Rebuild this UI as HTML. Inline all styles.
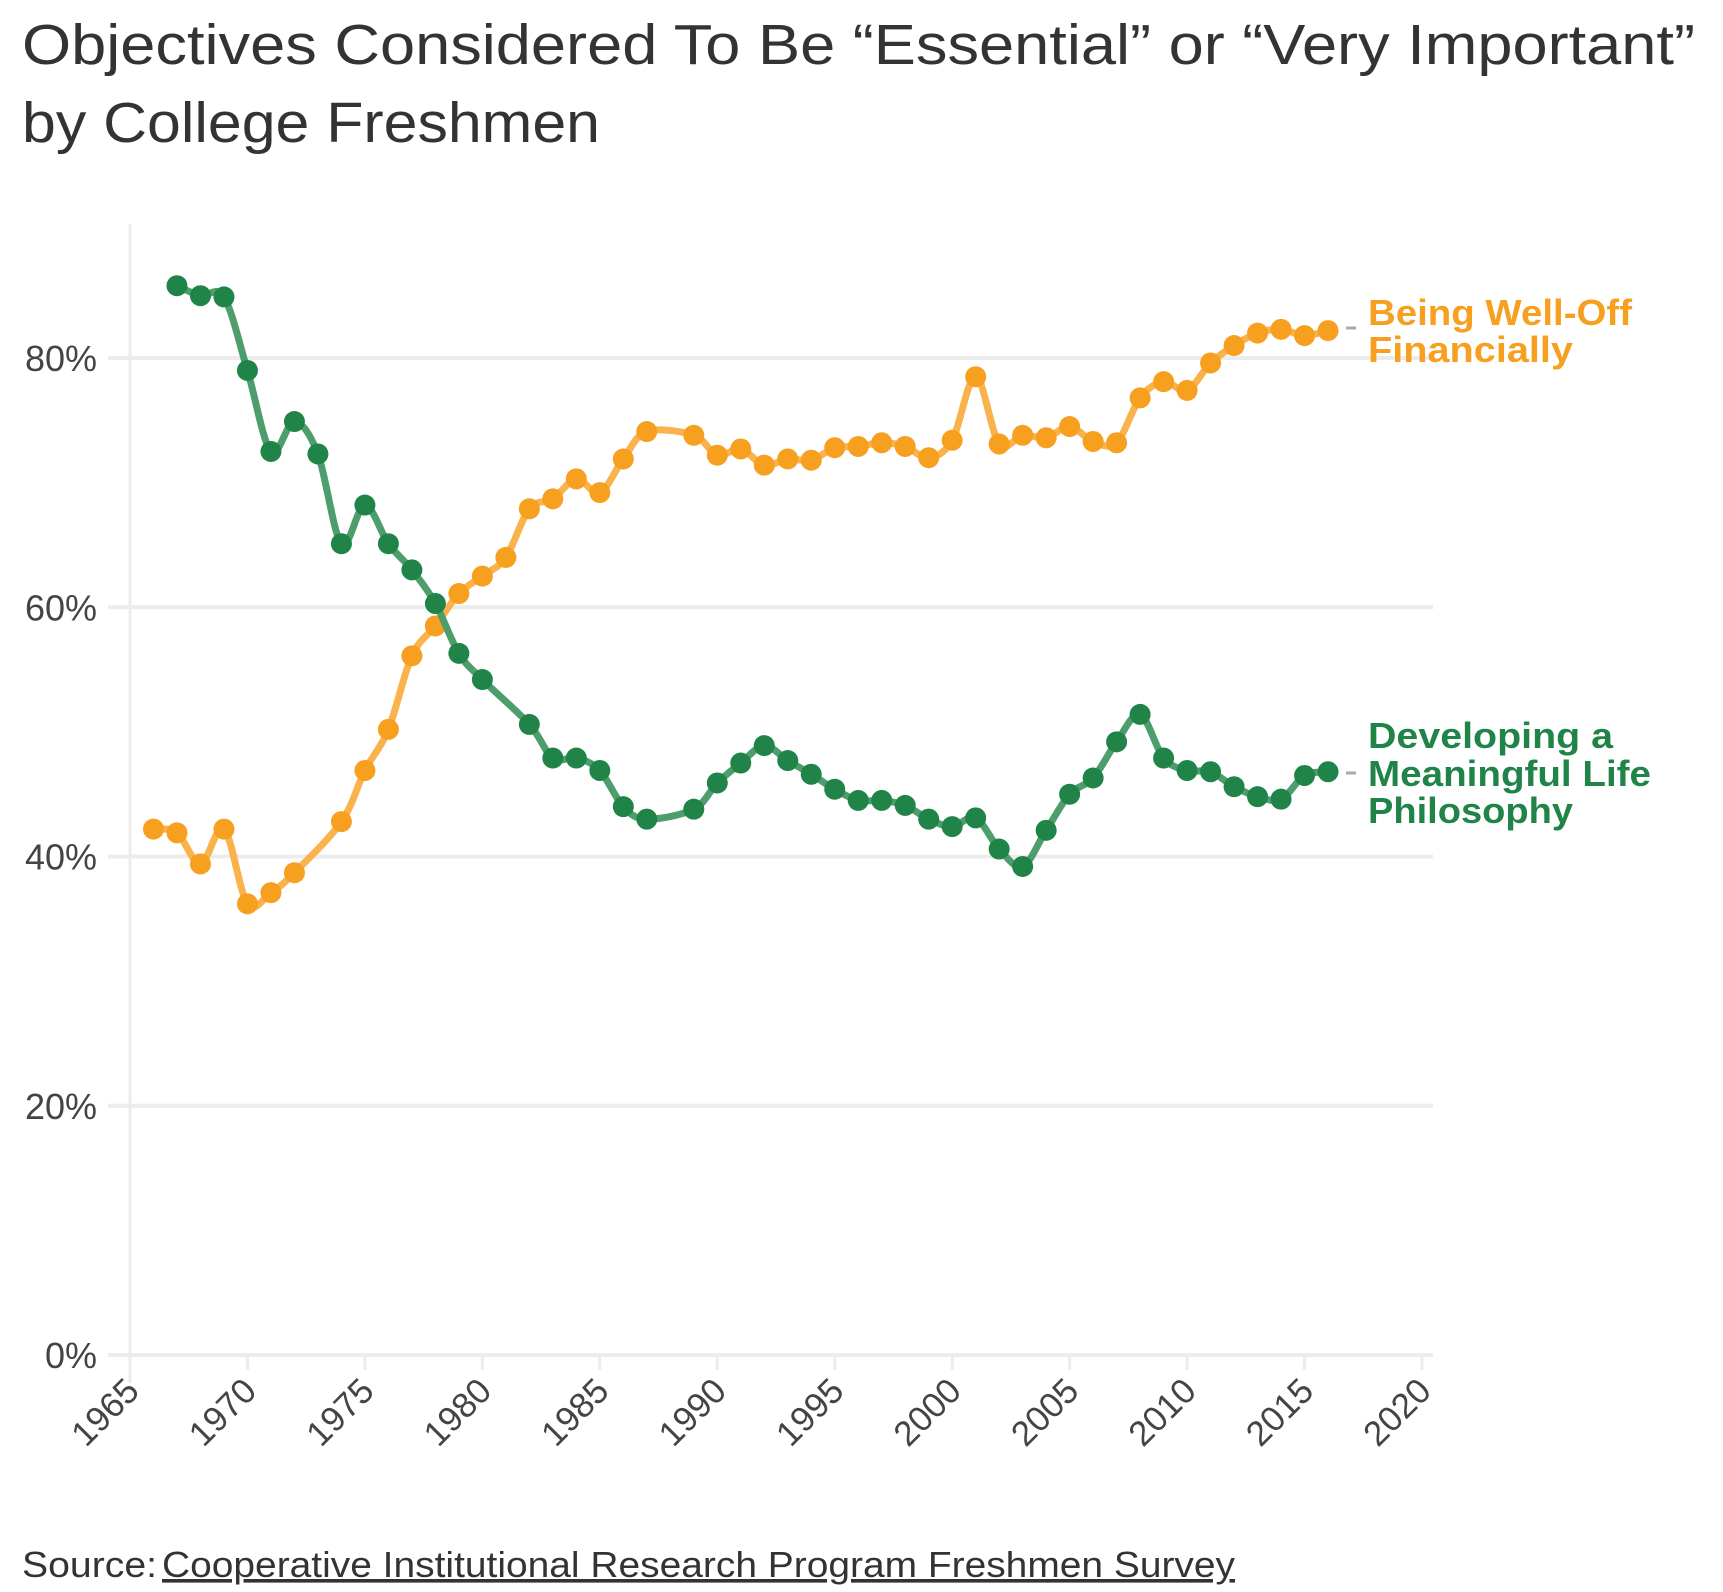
<!DOCTYPE html>
<html><head><meta charset="utf-8"><style>
html,body{margin:0;padding:0;background:#fff}
svg{display:block}
text{font-family:"Liberation Sans",sans-serif}
</style></head><body>
<svg id="chart" width="1723" height="1592" viewBox="0 0 1723 1592">
<text x="22" y="64" font-size="57" fill="#333" textLength="1673" lengthAdjust="spacingAndGlyphs">Objectives Considered To Be “Essential” or “Very Important”</text>
<text x="22" y="142" font-size="57" fill="#333" textLength="578" lengthAdjust="spacingAndGlyphs">by College Freshmen</text>
<g id="grid"></g>
<g id="xaxis"></g>
<g id="yaxis"></g>
<g id="series"></g>
<line x1="1346" y1="328" x2="1356" y2="328" stroke="#aaa" stroke-width="3"/>
<line x1="1346" y1="773" x2="1356" y2="773" stroke="#aaa" stroke-width="3"/>
<g font-weight="bold" font-size="36" fill="#f79f1f">
<text x="1368" y="325" textLength="264" lengthAdjust="spacingAndGlyphs">Being Well-Off</text>
<text x="1368" y="362" textLength="205" lengthAdjust="spacingAndGlyphs">Financially</text>
</g>
<g font-weight="bold" font-size="36" fill="#208449">
<text x="1368" y="748" textLength="245" lengthAdjust="spacingAndGlyphs">Developing a</text>
<text x="1368" y="786" textLength="283" lengthAdjust="spacingAndGlyphs">Meaningful Life</text>
<text x="1368" y="823" textLength="205" lengthAdjust="spacingAndGlyphs">Philosophy</text>
</g>
<text x="22" y="1577" font-size="36" fill="#333"><tspan textLength="135" lengthAdjust="spacingAndGlyphs">Source:</tspan><tspan x="162" text-decoration="underline" textLength="1073" lengthAdjust="spacingAndGlyphs">Cooperative Institutional Research Program Freshmen Survey</tspan></text>
</svg>
<script>
const finYears=[1966,1967,1968,1969,1970,1971,1972,1974,1975,1976,1977,1978,1979,1980,1981,1982,1983,1984,1985,1986,1987,1989,1990,1991,1992,1993,1994,1995,1996,1997,1998,1999,2000,2001,2002,2003,2004,2005,2006,2007,2008,2009,2010,2011,2012,2013,2014,2015,2016];
const finValues=[42.2,41.9,39.4,42.2,36.2,37.1,38.7,42.8,46.9,50.2,56.1,58.5,61.1,62.5,64.0,67.9,68.7,70.3,69.2,71.9,74.1,73.8,72.2,72.7,71.4,71.9,71.8,72.8,72.9,73.2,72.9,72.0,73.4,78.5,73.1,73.8,73.6,74.5,73.3,73.2,76.8,78.1,77.4,79.6,81.0,82.0,82.3,81.8,82.2];
const philYears=[1967,1968,1969,1970,1971,1972,1973,1974,1975,1976,1977,1978,1979,1980,1982,1983,1984,1985,1986,1987,1989,1990,1991,1992,1993,1994,1995,1996,1997,1998,1999,2000,2001,2002,2003,2004,2005,2006,2007,2008,2009,2010,2011,2012,2013,2014,2015,2016];
const philValues=[85.8,85.0,84.9,79.0,72.5,74.9,72.3,65.1,68.2,65.1,63.0,60.3,56.3,54.2,50.6,47.9,47.9,46.9,44.0,43.0,43.8,45.9,47.5,48.9,47.7,46.6,45.4,44.5,44.5,44.1,43.0,42.4,43.1,40.6,39.2,42.1,45.0,46.3,49.2,51.4,47.9,46.9,46.8,45.6,44.8,44.6,46.5,46.8];
const xTicks=[1965,1970,1975,1980,1985,1990,1995,2000,2005,2010,2015,2020];
const yTicks=[0,20,40,60,80];
const yTickLabels=["0%","20%","40%","60%","80%"];

const NS="http://www.w3.org/2000/svg";
const x=yr=>130+(yr-1965)*(1422-130)/55;
const y=v=>1355-v*(1355-358)/80;
function mk(tag,attrs,parent){const e=document.createElementNS(NS,tag);for(const k in attrs)e.setAttribute(k,attrs[k]);parent.appendChild(e);return e;}
const grid=document.getElementById('grid'),xa=document.getElementById('xaxis'),ya=document.getElementById('yaxis'),ser=document.getElementById('series');
mk('line',{x1:x(1965),y1:224,x2:x(1965),y2:1383,stroke:'#ececec','stroke-width':3},grid);
yTicks.forEach((t,i)=>{
  const l=mk('line',{x1:108,y1:y(t),x2:1433,y2:y(t),stroke:'#ececec','stroke-width':4},grid);
  
  
  const tx=mk('text',{x:97,y:y(t)+13,'text-anchor':'end','font-size':36,fill:'#444'},ya);
  tx.textContent=yTickLabels[i];
  
  
});
xTicks.forEach(t=>{
  const l=mk('line',{x1:x(t),y1:1355,x2:x(t),y2:1370,stroke:'#ececec','stroke-width':3},xa);
  
  
  const tx=mk('text',{x:0,y:0,'text-anchor':'end','font-size':35,fill:'#444',transform:`translate(${x(t)+11},${1393}) rotate(-45)`},xa);
  tx.textContent=t;
  
  
});
function smooth(pts){
  let d=`M${pts[0][0]},${pts[0][1]}`;
  for(let i=0;i<pts.length-1;i++){
    const p0=pts[i-1]||pts[i],p1=pts[i],p2=pts[i+1],p3=pts[i+2]||p2;
    const t=0.5/3;
    const c1=[p1[0]+(p2[0]-p0[0])*t,p1[1]+(p2[1]-p0[1])*t];
    const c2=[p2[0]-(p3[0]-p1[0])*t,p2[1]-(p3[1]-p1[1])*t];
    d+=`C${c1[0]},${c1[1]} ${c2[0]},${c2[1]} ${p2[0]},${p2[1]}`;
  }
  return d;
}
function drawSeries(years,vals,lineColor,dotColor,name){
  const g=mk('g',{},ser);
  
  
  const pts=years.map((yr,i)=>[x(yr),y(vals[i])]);
  const p=mk('path',{d:smooth(pts),fill:'none',stroke:lineColor,'stroke-width':7,'stroke-linejoin':'round'},g);
  
  
  pts.forEach(pt=>{
    const c=mk('circle',{cx:pt[0],cy:pt[1],r:10.5,fill:dotColor},g);
    
    
  });
}
drawSeries(finYears,finValues,'#f9b24c','#f79f1f','financial');
drawSeries(philYears,philValues,'#4e9d6c','#208449','philosophy');
</script>
</body></html>
